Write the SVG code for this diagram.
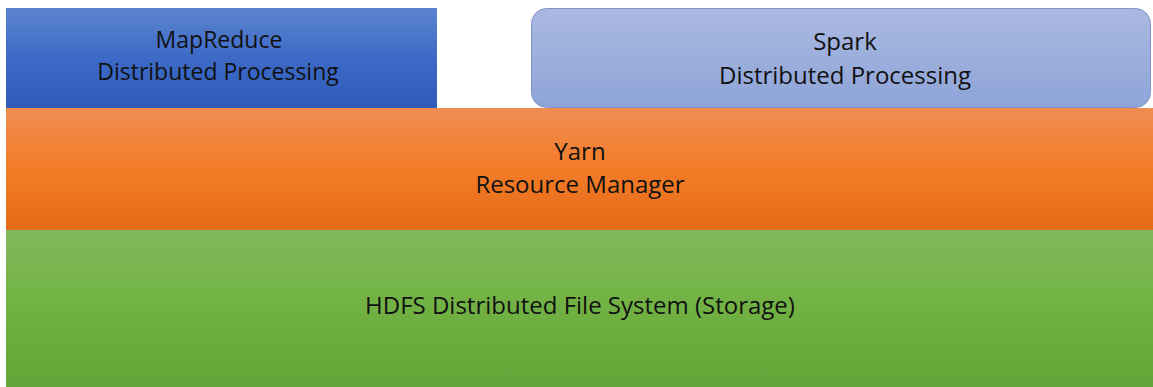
<svg xmlns="http://www.w3.org/2000/svg" width="1153" height="387" viewBox="0 0 1153 387">
<defs>
<linearGradient id="gBlue" x1="0" y1="0" x2="0" y2="1"><stop offset="0" stop-color="#5b84cf"/><stop offset="0.5" stop-color="#3d6ac6"/><stop offset="1" stop-color="#2e5cb8"/></linearGradient>
<linearGradient id="gLight" x1="0" y1="0" x2="0" y2="1"><stop offset="0" stop-color="#aab9e0"/><stop offset="1" stop-color="#8ea4d8"/></linearGradient>
<linearGradient id="gOrange" x1="0" y1="0" x2="0" y2="1"><stop offset="0" stop-color="#f08c52"/><stop offset="0.5" stop-color="#f37c28"/><stop offset="1" stop-color="#e46a17"/></linearGradient>
<linearGradient id="gGreen" x1="0" y1="0" x2="0" y2="1"><stop offset="0" stop-color="#80b95c"/><stop offset="0.4" stop-color="#74b446"/><stop offset="1" stop-color="#63a438"/></linearGradient>
</defs>
<style>
text{font-family:"Open Sans","Liberation Sans",sans-serif;font-size:24px;fill:#111;text-anchor:middle}
.mr{font-size:23px}
</style>
<rect width="1153" height="387" fill="#fff"/>
<g id="hdfs"><rect x="6" y="230" width="1147" height="157" fill="url(#gGreen)"/><text x="580" y="314">HDFS Distributed File System (Storage)</text></g>
<g id="yarn"><rect x="6" y="108" width="1147" height="122" fill="url(#gOrange)"/><text x="580" y="160">Yarn</text><text x="580" y="193">Resource Manager</text></g>
<g id="mapreduce"><rect x="6" y="8" width="431" height="100" fill="url(#gBlue)"/><text class="mr" x="219" y="48">MapReduce</text><text class="mr" x="218" y="80">Distributed Processing</text></g>
<g id="spark"><rect x="531.5" y="8.5" width="619" height="99" rx="15" fill="url(#gLight)" stroke="#7f95cc" stroke-width="1"/><text x="845" y="50">Spark</text><text x="845" y="84">Distributed Processing</text></g>
<g id="connectors"></g>
</svg>
